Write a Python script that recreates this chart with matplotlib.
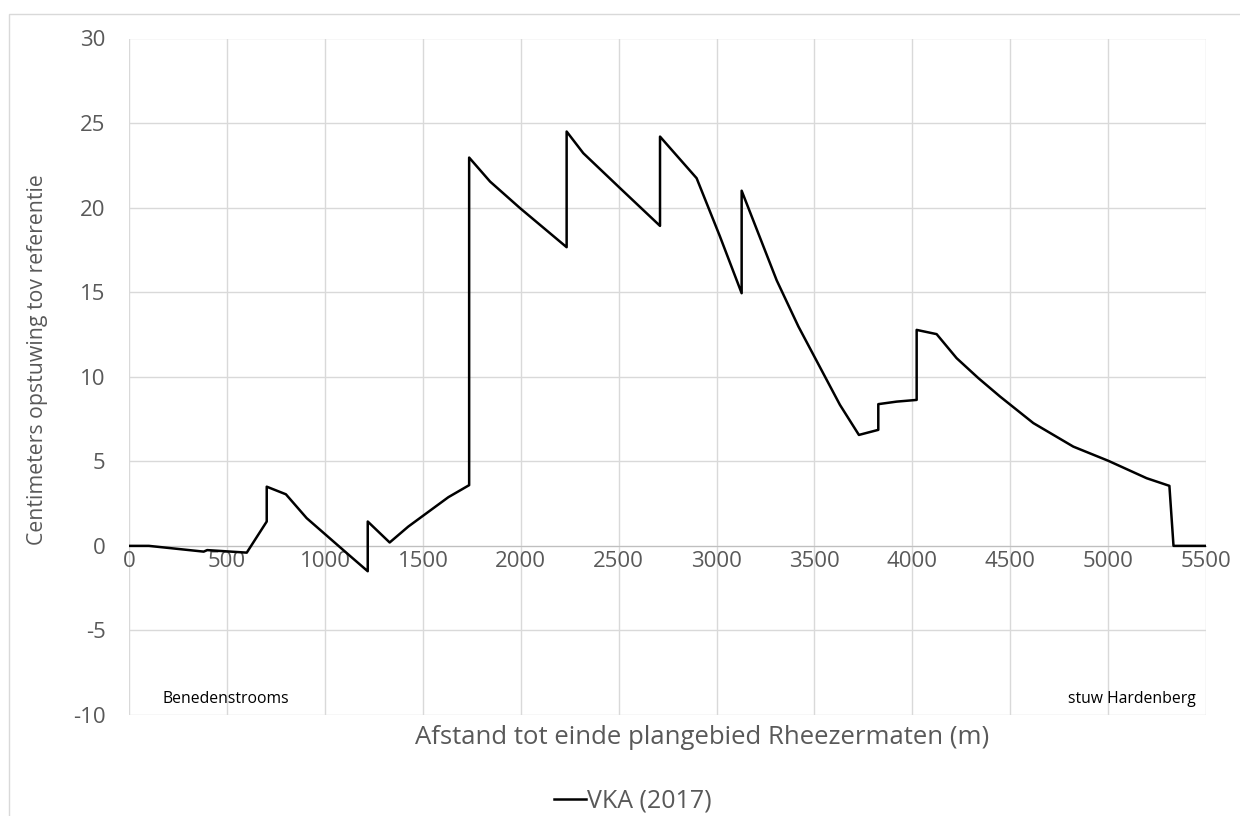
import matplotlib
matplotlib.use("Agg")
import matplotlib.pyplot as plt
from matplotlib.patches import Rectangle

# afstand (m) en opstuwing (cm)
afstand = [0, 100, 380, 398, 600, 702, 702, 800, 906, 1127, 1218, 1218, 1330,
           1425, 1630, 1736, 1736, 1843, 1996, 2098, 2234, 2234, 2319, 2507,
           2711, 2711, 2898, 3017, 3128, 3128, 3307, 3418, 3630, 3727, 3826,
           3826, 3920, 4022, 4022, 4124, 4226, 4337, 4448, 4618, 4822, 5001,
           5197, 5313, 5334, 5500]
opstuwing = [0, 0, -0.34, -0.25, -0.4, 1.44, 3.5, 3.05, 1.64, -0.59, -1.5, 1.44,
             0.2, 1.14, 2.88, 3.59, 22.96, 21.54, 19.97, 18.98, 17.66, 24.5,
             23.22, 21.15, 18.92, 24.2, 21.74, 18.3, 14.94, 21.0, 15.7, 12.97,
             8.34, 6.56, 6.86, 8.38, 8.53, 8.63, 12.77, 12.52, 11.1, 9.92, 8.83,
             7.26, 5.87, 5.03, 4.0, 3.55, 0, 0]

xticks = list(range(0, 5501, 500))
yticks = list(range(-10, 31, 5))

plt.rcParams['font.family'] = ['Open Sans', 'DejaVu Sans']
plt.rcParams['axes.unicode_minus'] = False
grey = '#595959'

W, H = 1240, 816
fig = plt.figure(figsize=(W / 100, H / 100), dpi=100)
ax = fig.add_axes([129.3 / W, 1 - 715 / H, (1206 - 129.3) / W, (715 - 38.5) / H])

ax.plot(afstand, opstuwing, color='black', lw=1.8, label='VKA (2017)', zorder=3)

ax.set_xlim(0, 5500)
ax.set_ylim(-10, 30)
ax.set_xticks(xticks)
ax.set_yticks(yticks)
ax.grid(True, color='#d9d9d9', lw=1)
ax.set_axisbelow(True)

for s in ['top', 'right', 'left']:
    ax.spines[s].set_visible(False)
ax.spines['bottom'].set_position(('data', 0))
ax.spines['bottom'].set_color('#bfbfbf')
ax.tick_params(axis='x', length=0, pad=4, labelsize=16, labelcolor=grey)
ax.tick_params(axis='y', length=0, pad=17, labelsize=16, labelcolor=grey)

fig.text(702 / W, 1 - 737 / H, 'Afstand tot einde plangebied Rheezermaten (m)',
         ha='center', va='center', fontsize=18.5, color=grey)
fig.text(38 / W, 1 - 360 / H, 'Centimeters opstuwing tov referentie',
         ha='center', va='center', rotation=90, fontsize=15.3, color=grey)

ax.text(172, -9.05, 'Benedenstrooms', ha='left', va='center', fontsize=11.3, color='black')
ax.text(5449, -9.05, 'stuw Hardenberg', ha='right', va='center', fontsize=11.3, color='black')

fig.legend(loc='center', bbox_to_anchor=(633 / W, 1 - 801 / H), frameon=False,
           fontsize=18, labelcolor=grey, handlelength=1.25, handletextpad=0.05)

fig.patches.append(Rectangle((9.3 / W, -0.1), 1.2, 1 - 14.3 / H + 0.1,
                             transform=fig.transFigure, fill=False,
                             edgecolor='#d9d9d9', lw=1))

fig.savefig('out.png', dpi=100)
